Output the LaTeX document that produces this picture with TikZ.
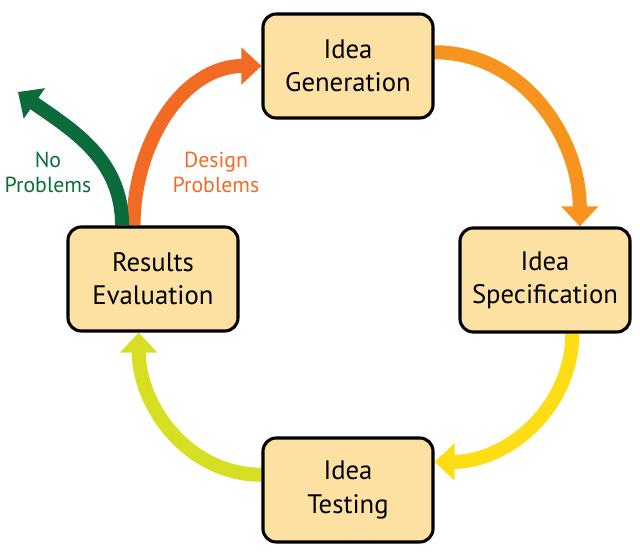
\documentclass[tikz,border=0pt]{standalone}
\usepackage{fontspec}
\setmainfont{PT Sans}
\usepackage{tikz}
\usetikzlibrary{arrows.meta, positioning, calc}
\definecolor{stagefill}{HTML}{FDE1A2}
\definecolor{cyc_orange}{HTML}{F7941D}
\definecolor{cyc_yellow}{HTML}{FFDD15}
\definecolor{cyc_lime}{HTML}{D7DF23}
\definecolor{cyc_red}{HTML}{F26B24}
\definecolor{cyc_green}{HTML}{0C6B3A}
\tikzset{
  stage/.style={rectangle,rounded corners=0.33cm,draw=black,line width=2.2pt,fill=stagefill,minimum width=4.25cm,minimum height=2.6cm,align=center,font=\fontsize{19}{23.5}\selectfont},
  cycle/.style={line width=10pt,-{Triangle[width=0.9cm,length=0.5cm]}},
  branch/.style={font=\fontsize{15.5}{17.8}\selectfont,align=center},
}
\pgfdeclarelayer{back}
\pgfsetlayers{back,main}

\begin{document}
\begin{tikzpicture}
	    \useasboundingbox (0,0) rectangle (16,13.975);
	    \node[stage] (gen) at (8.7,12.325) {Idea\\Generation};
	    \node[stage] (spec) at (13.625,6.975) {Idea\\Specification};
	    \node[stage] (test) at (8.7,1.725) {Idea\\Testing};
	    \node[stage] (res) at (3.825,7.0) {Results\\Evaluation};
	    \coordinate (exit) at (0.45,11.675);
	    \node[branch,text=cyc_green] (nop) at (1.2,9.675) {No\\Problems};
	    \node[branch,text=cyc_red] (dp) at (5.4,9.675) {Design\\Problems};
	    \begin{pgfonlayer}{back}
	    \draw[cycle,cyc_orange] (gen.9) to[out=0,in=90] (spec.57);
	    \draw[cycle,cyc_yellow] (spec.-63) to[out=-90,in=0] (test.18);
	    \draw[cycle,cyc_lime] (test.170) to[out=180,in=-90] (res.-105);
	    \draw[cycle,cyc_red] (res.110) to[out=90,in=180] (gen.west);
	    \draw[cycle,cyc_green] (res.120) to[out=90,in=-35] (exit);
	    \end{pgfonlayer}
	\end{tikzpicture}
\end{document}
